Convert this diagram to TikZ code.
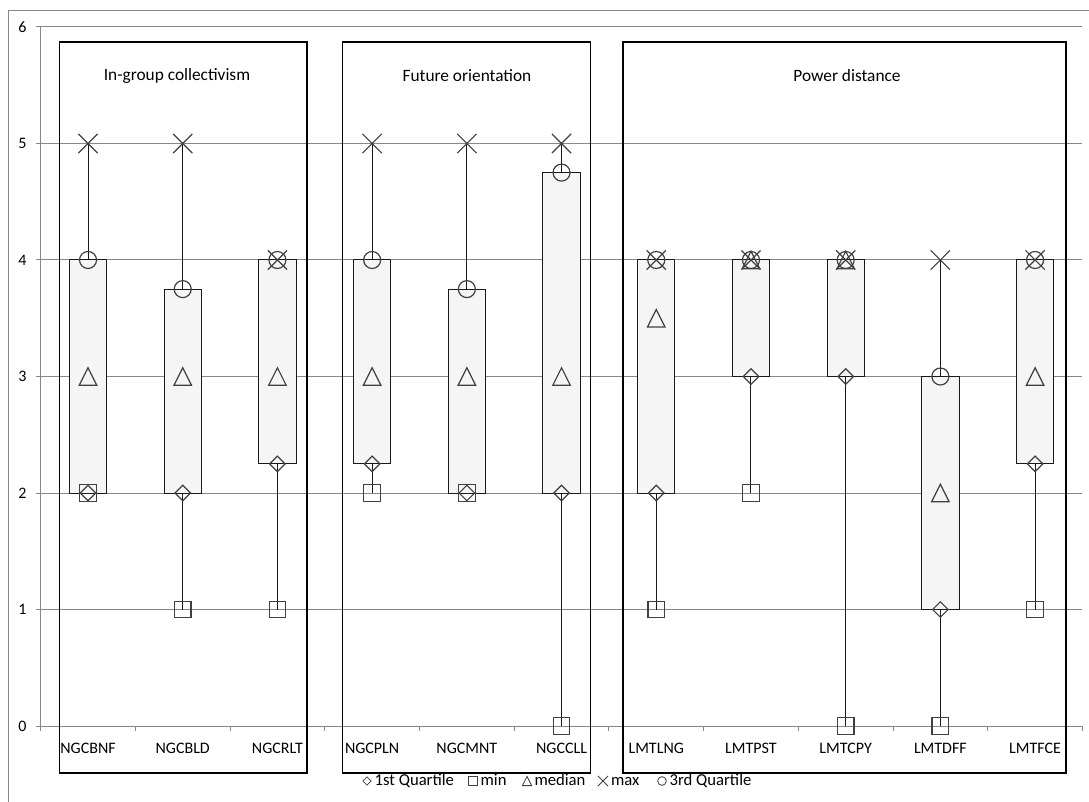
\documentclass[tikz,border=0pt]{standalone}
\usepackage{fontspec}
\setmainfont{Carlito}
\usetikzlibrary{positioning, shapes.geometric, shapes.misc}

\definecolor{gridgray}{HTML}{878787}
\definecolor{markgray}{HTML}{404040}
\definecolor{boxfill}{HTML}{F5F5F5}

\tikzset{
    lbl/.style={font=\fontsize{12}{14}\selectfont, inner sep=0pt},
    legtxt/.style={lbl, font=\fontsize{12.5}{15}\selectfont, text height=8.6pt, text depth=2.4pt},
    ptitle/.style={font=\fontsize{13}{15}\selectfont, inner sep=0pt},
    marker/.style={draw=markgray, line width=0.9pt, inner sep=0pt},
    qone/.style={marker, diamond, minimum size=12pt},
    qmin/.style={marker, rectangle, minimum size=12.5pt},
    qmed/.style={inner sep=0pt, minimum size=12.75pt},
    qmax/.style={marker, cross out, minimum size=13.5pt},
    qthree/.style={marker, circle, minimum size=12.75pt},
    triline/.style={draw=markgray, line width=0.9pt, line join=miter},
    panel/.style={draw=black, line width=1pt},
    whisker/.style={draw=black!90, line width=0.75pt},
    iqr/.style={draw=black!90, fill=boxfill, line width=0.75pt},
    grid/.style={draw=gridgray, line width=0.75pt}
}

\begin{document}
\begin{tikzpicture}[x=0.75pt, y=-0.75pt]
    \useasboundingbox (0,0) rectangle (1089,802);
    \clip (0,0) rectangle (1089,802);
    \draw[grid] (8.5,10.5) rectangle (1100,820);   %chart frame

    \begin{scope}[xshift=30.5pt, yshift=-544.5pt, x=71.03pt, y=87.375pt]
        % axes and gridlines
        \foreach \v in {1,...,6}
            \draw[grid] (0,\v) -- (11,\v);
        \draw[grid] (0,0) -- (0,6);
        \draw[grid] (0,0) -- (11,0);
        \foreach \v in {0,...,6} {
            \draw[grid] (0,\v) -- ++(-3.5pt,0);
            \node[lbl, anchor=east] (y\v) at ([xshift=-10.5pt]0,\v) {\v};
        }
        \foreach \c in {0,...,11}
            \draw[grid] (\c,0) -- ++(0,-4pt);

        % min / Q1 / median / Q3 / max
        \foreach \nm/\lo/\qa/\md/\qc/\hi [count=\i] in {
                NGCBNF/2/2/3/4/5, NGCBLD/1/2/3/3.75/5, NGCRLT/1/2.25/3/4/4,
                NGCPLN/2/2.25/3/4/5, NGCMNT/2/2/3/3.75/5, NGCCLL/0/2/3/4.75/5,
                LMTLNG/1/2/3.5/4/4, LMTPST/2/3/4/4/4, LMTCPY/0/3/4/4/4,
                LMTDFF/0/1/2/3/4, LMTFCE/1/2.25/3/4/4} {
            \coordinate (c\i) at (\i-0.5,0);
            \coordinate (lo\i) at (\i-0.5,\lo);
            \coordinate (qa\i) at (\i-0.5,\qa);
            \coordinate (md\i) at (\i-0.5,\md);
            \coordinate (qc\i) at (\i-0.5,\qc);
            \coordinate (hi\i) at (\i-0.5,\hi);
            \draw[whisker] (hi\i) -- (lo\i);
            \draw[iqr] ([xshift=-14pt]qa\i) rectangle ([xshift=14pt]qc\i);
            \node[qone] (d\i) at (qa\i) {};
            \node[qmin] (s\i) at (lo\i) {};
            \node[qmed] (t\i) at (md\i) {};
            \draw[triline] (t\i.south west) -- (t\i.south east) -- (t\i.north) -- cycle;
            \node[qmax] (x\i) at (hi\i) {};
            \node[qthree] (o\i) at (qc\i) {};
            \node[lbl] (cat\i) at ([yshift=-16.5pt]c\i) {\nm};
        }
    \end{scope}

    % groups
    \draw[panel] (59.5,42) rectangle (307,773);
    \draw[panel] (342.5,42) rectangle (590.5,773);
    \draw[panel] (623,42) rectangle (1066,773);
    \node[ptitle] (igc) at (177,76) {In-group collectivism};
    \node[ptitle] (fo) at (467,76) {Future orientation};
    \node[ptitle] (pd) at (847,76) {Power distance};

    % legend
    \node[qone, minimum size=6.5pt, line width=0.6pt] (lq1) at (367,781) {};
    \node[legtxt, right=2pt of lq1] (lq1t) {1st Quartile};
    \node[qmin, minimum size=6.5pt, line width=0.6pt] (lmin) at (473,781) {};
    \node[legtxt, right=2pt of lmin] (lmint) {min};
    \node[qmed, minimum size=6.5pt] (lmed) at (527,781) {};
    \draw[triline, line width=0.6pt] (lmed.south west) -- (lmed.south east) -- (lmed.north) -- cycle;
    \node[legtxt, right=2pt of lmed] (lmedt) {median};
    \node[qmax, minimum size=7pt, line width=0.6pt] (lmax) at (603,781) {};
    \node[legtxt, right=2pt of lmax] (lmaxt) {max};
    \node[qthree, minimum size=6.5pt, line width=0.6pt] (lq3) at (662,781) {};
    \node[legtxt, right=2pt of lq3] (lq3t) {3rd Quartile};
\end{tikzpicture}
\end{document}
